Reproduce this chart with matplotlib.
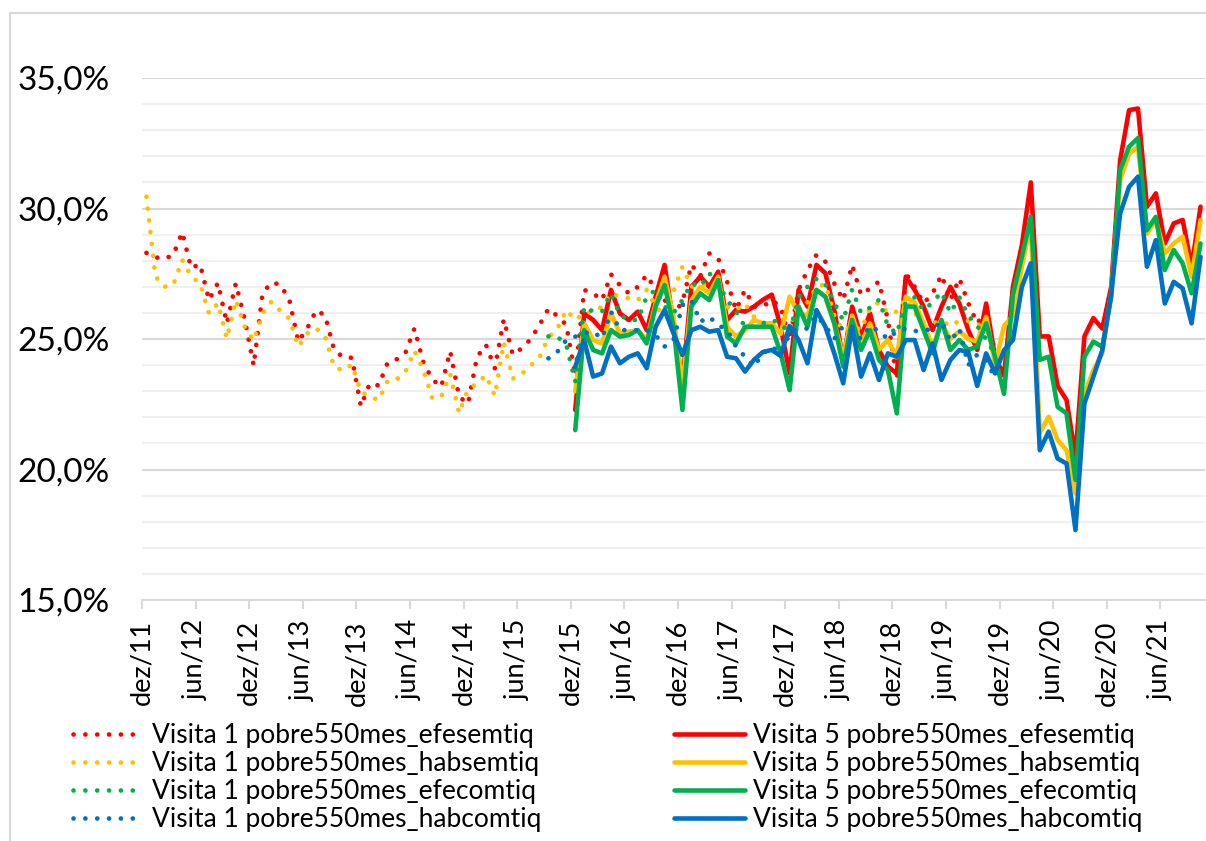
# coding: utf-8
"""Pobreza mensal: visita 1 x visita 5."""

import numpy as np
import matplotlib.pyplot as plt
from matplotlib.ticker import FuncFormatter, MultipleLocator
from matplotlib.lines import Line2D

plt.rcParams['font.family'] = ['Lato', 'DejaVu Sans']

# meses dez/11 (0) ... out/21 (118)
n_months = 119
tick_labels = ["dez/11", "jun/12", "dez/12", "jun/13", "dez/13", "jun/14", "dez/14",
               "jun/15", "dez/15", "jun/16", "dez/16", "jun/17", "dez/17", "jun/18",
               "dez/18", "jun/19", "dez/19", "jun/20", "dez/20", "jun/21"]

# Visita 1 (pontilhado)
v1_start_red = 0
v1_red = [28.3, 28.13, 28.07, 28.22, 29.09, 27.72, 27.87, 26.49, 27.15, 25.6,
          27.13, 25.75, 23.98, 26.76, 27.17, 27.08, 26.49, 24.9, 25.41, 26.1,
          25.9, 24.59, 24.3, 24.28, 22.42, 23.3, 23.22, 24.1, 24.22, 24.48,
          25.4, 24.1, 23.45, 23.17, 24.53, 22.79, 22.52, 24.31, 24.78, 23.88,
          25.75, 24.4, 24.64, 24.99, 25.54, 26.16, 25.88, 25.54, 23.6, 26.88,
          26.75, 26.49, 27.48, 27.06, 26.75, 27.0, 27.45, 26.88, 26.5, 26.0,
          26.4, 27.85, 27.41, 28.28, 28.09, 27.2, 26.11, 26.88, 26.24, 26.24,
          26.49, 26.24, 24.96, 26.88, 27.64, 28.22, 27.96, 27.13, 26.49, 27.84,
          26.69, 26.94, 27.2, 25.73, 23.43, 27.52, 27.0, 26.37, 26.75, 27.45,
          26.49, 27.32, 26.37, 25.6, 26.1, 24.45]
v1_start_orange = 0
v1_orange = [30.45, 27.4, 27.0, 27.07, 28.03, 27.4, 27.13, 25.98, 26.37, 25.02,
             26.49, 25.47, 24.94, 25.98, 26.43, 26.07, 25.78, 24.71, 25.22, 25.41,
             25.09, 23.94, 23.79, 24.02, 22.98, 22.79, 22.66, 23.4, 23.45, 23.75,
             24.55, 23.81, 22.73, 22.79, 23.66, 22.16, 23.07, 23.3, 23.61, 22.82,
             24.86, 23.48, 23.65, 23.98, 24.3, 25.06, 25.4, 26.11, 25.73, 25.98,
             26.05, 26.24, 26.75, 26.62, 26.56, 26.49, 26.88, 26.24, 25.9, 26.81,
             27.77, 27.0, 27.07, 27.13, 26.75, 26.24, 26.11, 26.36, 25.85, 25.6,
             25.47, 25.34, 25.5, 26.2, 26.4, 27.0, 27.1, 25.9, 25.3, 25.5,
             25.35, 26.2, 26.4, 26.0, 26.05, 26.55, 26.0, 25.6, 25.6, 25.7,
             25.5, 25.7, 25.7, 25.6, 25.3, 24.9]
v1_start_green = 45
v1_green = [25.1, 25.09, 24.77, 23.37, 26.24, 26.05, 26.05, 26.75, 25.92, 25.73,
            25.73, 26.62, 26.88, 26.24, 26.0, 26.49, 27.13, 27.0, 27.52, 27.13,
            26.49, 26.05, 25.47, 25.47, 25.6, 25.73, 25.6, 25.2, 26.6, 27.0,
            27.3, 27.1, 26.4, 25.7, 26.9, 26.0, 26.2, 26.5, 25.5, 25.2,
            26.4, 26.6, 26.1, 26.4, 26.8, 26.0, 26.6, 25.9, 25.5, 25.0, 24.4]
v1_start_blue = 45
v1_blue = [24.26, 24.51, 24.96, 25.09, 25.22, 25.28, 25.02, 26.05, 25.34, 25.34,
           25.34, 25.34, 25.15, 24.71, 24.96, 26.3, 26.49, 25.66, 25.85, 25.54,
           25.34, 24.71, 24.32, 23.94, 24.45, 24.71, 24.45, 25.2, 25.4, 25.4,
           25.9, 25.5, 25.0, 25.5, 25.3, 25.0, 25.5, 25.3, 25.0, 25.3,
           25.4, 25.3, 25.35, 25.35, 25.7, 24.9, 25.4, 24.0, 24.4, 24.2, 23.5]

# Visita 5 (linha cheia), dez/15 em diante
v5_start = 48
v5_red = [22.28, 25.98, 25.73, 25.34, 26.88, 25.98, 25.73, 26.05, 25.34, 26.62,
          27.84, 25.6, 23.3, 27.0, 27.39, 27.0, 27.58, 25.73, 26.11, 26.05,
          26.24, 26.5, 26.7, 25.47, 23.68, 26.88, 26.24, 27.84, 27.52, 26.11,
          24.2, 26.24, 25.09, 25.98, 24.58, 23.94, 23.68, 27.39, 26.88, 26.24,
          25.34, 26.24, 27.0, 26.36, 25.34, 24.58, 26.36, 24.3, 23.6, 27.0,
          28.6, 31.0, 25.1, 25.1, 23.2, 22.66, 20.5, 25.1, 25.8, 25.4,
          27.0, 31.85, 33.77, 33.83, 30.07, 30.58, 28.66, 29.43, 29.56, 27.77,
          30.07]
v5_orange = [23.0, 25.6, 24.96, 24.83, 25.98, 25.22, 25.28, 25.34, 24.96, 26.36,
             27.39, 25.85, 23.17, 26.49, 27.0, 26.75, 27.39, 25.47, 25.09, 25.34,
             25.73, 25.6, 25.6, 25.2, 26.62, 25.98, 25.9, 26.88, 26.62, 25.6,
             24.32, 25.9, 24.83, 25.6, 24.6, 24.96, 24.3, 26.62, 26.4, 25.6,
             24.7, 25.6, 25.0, 25.3, 25.0, 24.9, 25.85, 24.0, 25.5, 25.9,
             27.77, 29.43, 21.4, 22.02, 21.13, 20.74, 19.08, 22.9, 23.8, 24.45,
             26.75, 31.09, 32.1, 32.37, 29.04, 29.56, 28.28, 28.66, 28.92, 27.39,
             29.56]
v5_green = [21.51, 25.34, 24.58, 24.45, 25.34, 25.09, 25.15, 25.34, 24.83, 26.24,
            27.07, 25.47, 22.28, 26.24, 26.75, 26.49, 27.26, 25.09, 24.83, 25.47,
            25.47, 25.47, 25.47, 24.45, 23.04, 26.24, 25.47, 26.88, 26.62, 25.6,
            23.94, 25.73, 24.58, 25.34, 24.2, 23.81, 22.15, 26.24, 26.24, 25.34,
            24.45, 25.73, 24.58, 24.96, 24.58, 24.71, 25.6, 24.3, 22.9, 26.7,
            28.15, 29.68, 24.2, 24.32, 22.4, 22.15, 19.6, 24.32, 24.9, 24.7,
            26.6, 31.47, 32.37, 32.7, 29.17, 29.68, 27.64, 28.41, 27.9, 26.75,
            28.66]
v5_blue = [23.94, 24.96, 23.56, 23.68, 24.71, 24.07, 24.32, 24.45, 23.88, 25.47,
           26.11, 25.22, 24.39, 25.34, 25.47, 25.28, 25.34, 24.32, 24.26, 23.75,
           24.2, 24.5, 24.58, 24.35, 25.5, 24.96, 24.07, 26.11, 25.47, 24.45,
           23.3, 25.47, 23.56, 24.45, 23.43, 24.45, 24.32, 24.96, 24.96, 23.81,
           24.83, 23.43, 24.2, 24.58, 24.5, 23.2, 24.45, 23.68, 24.57, 24.96,
           27.0, 27.9, 20.74, 21.45, 20.42, 20.23, 17.68, 22.53, 23.55, 24.57,
           26.75, 29.81, 30.83, 31.22, 27.77, 28.79, 26.36, 27.19, 26.94, 25.6,
           28.15]

labels = ["Visita 1 pobre550mes_efesemtiq", "Visita 1 pobre550mes_habsemtiq",
          "Visita 1 pobre550mes_efecomtiq", "Visita 1 pobre550mes_habcomtiq",
          "Visita 5 pobre550mes_efesemtiq", "Visita 5 pobre550mes_habsemtiq",
          "Visita 5 pobre550mes_efecomtiq", "Visita 5 pobre550mes_habcomtiq"]
colors = ["#FF0000", "#FFC000", "#00B050", "#0070C0"]

W, H = 1206, 841
fig = plt.figure(figsize=(W / 100, H / 100), dpi=100)
ax = fig.add_axes([142 / W, 1 - 600 / H, (1205 - 142) / W, (600 - 78) / H])

dotted = (0, (0.01, 2.5))
v1 = [(v1_start_red, v1_red), (v1_start_orange, v1_orange),
      (v1_start_green, v1_green), (v1_start_blue, v1_blue)]
v5 = [v5_red, v5_orange, v5_green, v5_blue]

h1, h5 = [], []
for k in range(4):
    s, vals = v1[k]
    x = np.arange(s, s + len(vals))
    l1, = ax.plot(x, vals, color=colors[k], lw=3.4, ls=dotted,
                  dash_capstyle='round', zorder=3 + 2 * k)
    x5 = np.arange(v5_start, v5_start + len(v5[k]))
    l5, = ax.plot(x5, v5[k], color=colors[k], lw=3.3, solid_joinstyle='round',
                  solid_capstyle='round', zorder=4 + 2 * k)
    h1.append(l1)
    h5.append(l5)

ax.set_xlim(-0.5, n_months - 0.5)
ax.set_ylim(15, 35)
ax.yaxis.set_major_locator(MultipleLocator(5))
ax.yaxis.set_minor_locator(MultipleLocator(1))
ax.yaxis.set_major_formatter(FuncFormatter(lambda v, p: ("%.1f%%" % v).replace(".", ",")))
ax.grid(axis='y', which='major', color='#d9d9d9', lw=1.5, zorder=0)
ax.grid(axis='y', which='minor', color='#f0f0f0', lw=1.5, zorder=0)
ax.set_axisbelow(True)

ax.set_xticks(np.arange(0, 6 * len(tick_labels), 6) - 0.5)
ax.set_xticklabels(tick_labels, rotation=90, fontsize=19.5)
ax.tick_params(axis='x', length=6.5, width=1.5, color='#d9d9d9', pad=8)
ax.tick_params(axis='y', which='both', length=0, labelsize=24, pad=23.5)

for sp in ['top', 'right', 'left']:
    ax.spines[sp].set_visible(False)
ax.spines['bottom'].set_color('#d9d9d9')
ax.spines['bottom'].set_linewidth(1.5)

# contorno da área do gráfico
fig.add_artist(Line2D([10 / W, 10 / W], [0, 1 - 13 / H], color='#d9d9d9', lw=1.5))
fig.add_artist(Line2D([10 / W, 1], [1 - 13 / H, 1 - 13 / H], color='#d9d9d9', lw=1.5))

leg_kw = dict(loc='upper left', frameon=False, fontsize=19, handlelength=2.7,
              handletextpad=0.3, labelspacing=0.12, borderpad=0, borderaxespad=0)
fig.legend(h1, labels[:4], bbox_to_anchor=(73 / W, 1 - 723 / H), **leg_kw)
fig.legend(h5, labels[4:], bbox_to_anchor=(674 / W, 1 - 723 / H), **leg_kw)

fig.savefig("out.png", dpi=100)
